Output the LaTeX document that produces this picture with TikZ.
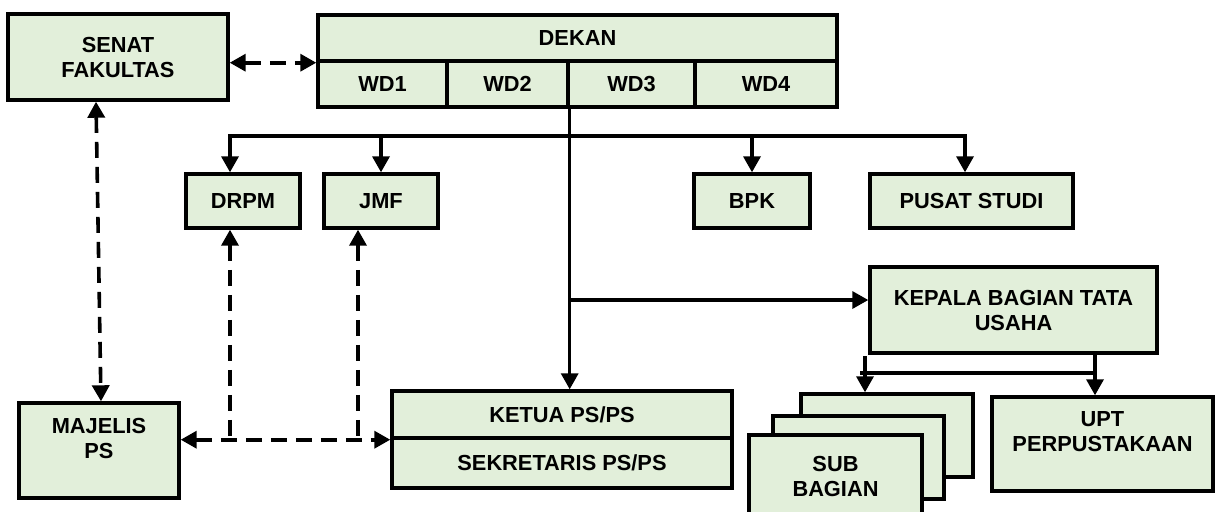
\documentclass[tikz,border=0pt]{standalone}
\usepackage{fontspec}
\setmainfont{Liberation Sans}
\usetikzlibrary{arrows.meta}
\definecolor{boxgreen}{RGB}{226,239,218}
\newcommand\boxfont{\fontsize{10.9}{12.5}\selectfont\bfseries}
\begin{document}
\begin{tikzpicture}[x=0.5pt,y=-0.5pt,
    >={Triangle[length=8pt,width=8.5pt]},
    box/.style={draw,line width=1.7pt,fill=boxgreen,align=center,font=\boxfont,inner sep=0pt},
    line/.style={line width=1.7pt,line join=miter},
    dsh/.style={line width=1.8pt,dash pattern=on 8pt off 4.5pt}]
    \useasboundingbox (0,0) rectangle (1216,511);
    % top row
    \node[box,minimum width=110pt,minimum height=43pt] (senat) at (118,57) {SENAT\\FAKULTAS};
    \node[box,minimum width=259.5pt,minimum height=23pt] (dekan) at (577.5,38) {DEKAN};
    \node[box,minimum width=64.5pt,minimum height=23pt] (wd1) at (382.5,84) {WD1};
    \node[box,minimum width=60.5pt,minimum height=23pt] (wd2) at (507.5,84) {WD2};
    \node[box,minimum width=63.5pt,minimum height=23pt] (wd3) at (631.5,84) {WD3};
    \node[box,minimum width=71pt,minimum height=23pt] (wd4) at (766,84) {WD4};
    % units under the dean
    \node[box,minimum width=57pt,minimum height=27pt] (drpm) at (243,201) {DRPM};
    \node[box,minimum width=57pt,minimum height=27pt] (jmf) at (381,201) {JMF};
    \node[box,minimum width=58pt,minimum height=27pt] (bpk) at (752,201) {BPK};
    \node[box,minimum width=101.5pt,minimum height=27pt] (pusat) at (971.5,201) {PUSAT STUDI};
    \node[box,minimum width=143.5pt,minimum height=43pt] (kepala) at (1013.5,310) {KEPALA BAGIAN TATA\\USAHA};
    % bottom row
    \node[box,minimum width=80pt,minimum height=47.5pt] (majelis) at (99,450.5) {MAJELIS\\PS\\~};
    \node[box,minimum width=170pt,minimum height=23.5pt] (ketua) at (562,414.5) {KETUA PS/PS};
    \node[box,minimum width=170pt,minimum height=25pt] (sekretaris) at (562,463) {SEKRETARIS PS/PS};
    \node[box,minimum width=86pt,minimum height=41.5pt] (sub3) at (887,435.5) {};
    \node[box,minimum width=85.5pt,minimum height=41.5pt] (sub2) at (858.5,457.5) {};
    \node[box,minimum width=86.5pt,minimum height=41.5pt] (sub1) at (835.5,476.5) {SUB\\BAGIAN};
    \node[box,minimum width=110.5pt,minimum height=47pt] (upt) at (1102.5,444) {UPT\\PERPUSTAKAAN\\~};

    % solid lines
    \coordinate (br) at (568,136);
    \coordinate (kb) at (1095,373);
    \coordinate (sb) at (865,373);
    \coordinate (kin) at ([yshift=5pt]kepala.west);
    \draw[line,->] (wd2.south east) -- (ketua.north -| wd2.south east);
    \draw[line,->] (br) -| ([xshift=-6.5pt]drpm.north);
    \draw[line,->] (jmf.north |- br) -- (jmf.north);
    \draw[line,->] (bpk.north |- br) -- (bpk.north);
    \draw[line,->] (br) -| ([xshift=-3.25pt]pusat.north);
    \draw[line,->] (wd2.south east |- kin) -- (kin);
    \draw[line,->] (kepala.south -| kb) -- (upt.north -| kb);
    \draw[line] (kb) -- ([xshift=-2.5pt]sb);
    \draw[line,->] ([yshift=8.5pt]sb) -- (sub3.north -| sb);

    % dashed lines
    \draw[dsh,<->] (senat.east |- dekan.south west) -- (dekan.south west);
    \draw[dsh,<->] ([xshift=-11pt]senat.south) -- ([xshift=1pt]majelis.north);
    \draw[dsh,<->] (majelis.east |- ketua.south west) -- (ketua.south west);
    \draw[dsh,<-] ([xshift=-6.5pt]drpm.south) -- ([xshift=-6.5pt]drpm.south |- ketua.south west);
    \draw[dsh,<-] ([xshift=-11.5pt]jmf.south) -- ([xshift=-11.5pt]jmf.south |- ketua.south west);
\end{tikzpicture}
\end{document}
